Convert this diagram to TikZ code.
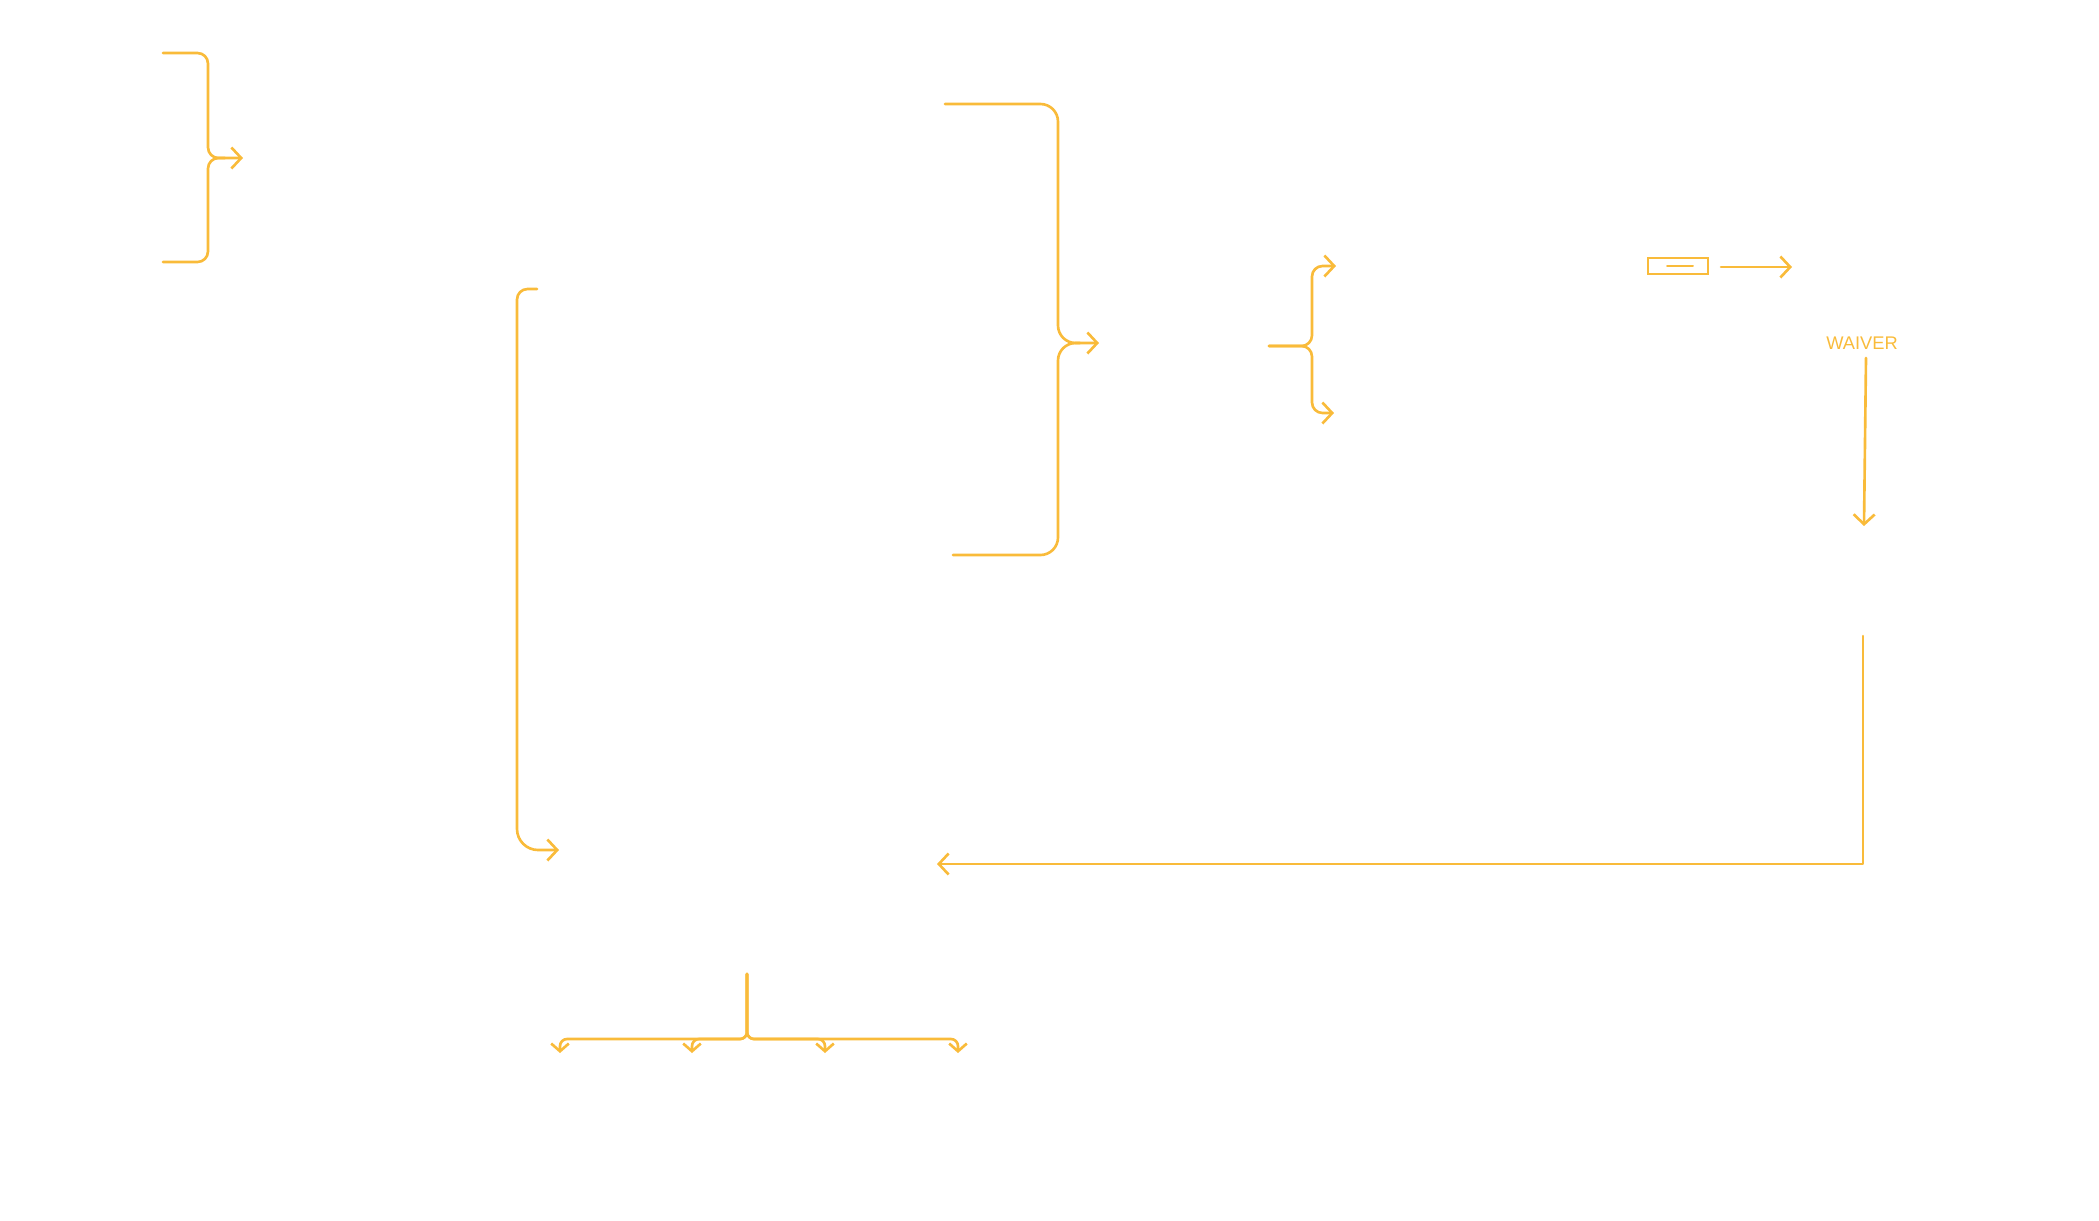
\documentclass[tikz,border=0pt]{standalone}
\usepackage{fontspec}
\setsansfont{Liberation Sans}
\usetikzlibrary{arrows.meta, positioning, calc}
\definecolor{marker}{RGB}{249,187,58}

\begin{document}
\begin{tikzpicture}[
			x=0.01cm, y=-0.01cm,
			pen/.style={draw=marker, line width=0.75pt, line cap=round, line join=round, rounded corners=3pt},
			arr/.style={pen, -{Straight Barb[length=2.8pt,width=6pt]}},
			smallarr/.style={pen, rounded corners=2pt, -{Straight Barb[length=2.2pt,width=5pt]}},
			tag/.style={text=marker, font=\sffamily\fontsize{5.2}{6}\selectfont, inner sep=0pt}
		]
		\useasboundingbox (0,0) rectangle (2099,1220);

		\coordinate (a1) at (163,53);
		\coordinate (a2) at (163,262);
		\coordinate (a) at (243,158);
		\draw[arr] (a1) -| (208,158) -- (a);
		\draw[pen] (a2) -| (208,158) -- (225,158);

		\coordinate (b1) at (945,104);
		\coordinate (b2) at (953,555);
		\coordinate (b) at (1099,343);
		\draw[arr, rounded corners=5pt] (b1) -| (1058,343) -- (b);
		\draw[pen, rounded corners=5pt] (b2) -| (1058,343) -- (1080,343);

		\coordinate (c1) at (537,289);
		\coordinate (c0) at (517,850);
		\coordinate (c) at (559,850);
		\draw[arr] (c1) -| (517,600) [rounded corners=6pt] -- (c0) -- (c);

		\coordinate (d) at (1269,346);
		\coordinate (d1) at (1336,266);
		\coordinate (d2) at (1334,413);
		\draw[arr] (d) -| (1312,266) -- (d1);
		\draw[arr] (d) -| (1312,413) -- (d2);

		\node[draw=marker, line width=0.75pt, minimum width=0.6cm, minimum height=0.16cm, inner sep=0pt] (box) at (1678,266) {};
		\coordinate (box1) at (1667,266);
		\coordinate (box2) at (1693,266);
		\draw[pen, line width=0.55pt] (box1) -- (box2);
		\coordinate (e0) at (1721,267);
		\coordinate (e) at (1792,267);
		\draw[arr] (e0) -- (e);

		\node[tag] (waiver) at (1862,343) {WAIVER};
		\coordinate (f0) at (1866,358);
		\coordinate (f) at (1864,526);
		\draw[arr] (f0) -- (f);

		\coordinate (g0) at (1863,636);
		\coordinate (g) at (937,864);
		\draw[arr, rounded corners=0pt] (g0) |- (g);

		\coordinate (h0) at (747,974);
		\coordinate (h) at (747,1039);
		\coordinate (h1) at (560,1053);
		\coordinate (h2) at (692,1053);
		\coordinate (h3) at (825,1053);
		\coordinate (h4) at (958,1053);
		\foreach \t in {h1,h2,h3,h4}
			\draw[smallarr] (h0) -- (h) -| (\t);
	\end{tikzpicture}
\end{document}
